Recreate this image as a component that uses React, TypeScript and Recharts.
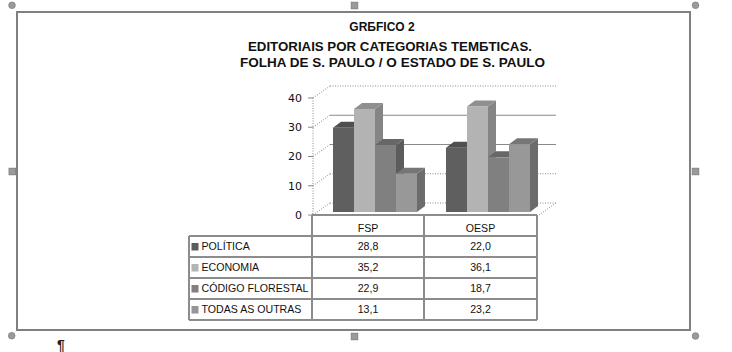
import React from 'react';
import { BarChart, Bar, XAxis, YAxis, CartesianGrid } from 'recharts';

const categories = ['FSP', 'OESP'];
const politica = [28.8, 22.0];
const economia = [35.2, 36.1];
const codigoFlorestal = [22.9, 18.7];
const todasAsOutras = [13.1, 23.2];
const seriesNames = ['POLÍTICA', 'ECONOMIA', 'CÓDIGO FLORESTAL', 'TODAS AS OUTRAS'];
const yTicks = [0, 10, 20, 30, 40];
const titleLines = [
  'GRБFICO 2',
  'EDITORIAIS POR CATEGORIAS TEMБTICAS.',
  'FOLHA DE S. PAULO / O ESTADO DE S. PAULO',
];

const seriesValues = [politica, economia, codigoFlorestal, todasAsOutras];
const seriesStyle = [
  { front: '#5f5f5f', side: '#474747', top: '#4f4f4f', key: '#5c5c5c' },
  { front: '#b3b3b3', side: '#858585', top: '#8f8f8f', key: '#b4b4b4' },
  { front: '#808080', side: '#5c5c5c', top: '#676767', key: '#808080' },
  { front: '#989898', side: '#6c6c6c', top: '#767676', key: '#969696' },
];

const data = categories.map((c, i) => {
  const row: any = { cat: c };
  seriesValues.forEach((vals, s) => {
    row['s' + s] = vals[i];
  });
  return row;
});

// layout
const W = 732;
const H = 352;
const PLOT_L = 313;
const PLOT_R = 539;
const PLOT_T = 98;
const PLOT_B = 215;
const DEPTH_X = 17;
const DEPTH_Y = -12;
const GRID = '#8a8a8a';

const make3D = (st: any) => (props: any) => {
  const { x, y, width, height } = props;
  if (width == null || height == null) return <g />;
  const X = x + 5;
  const Y = y - 3;
  const dx = 8;
  const dy = -6;
  return (
    <g>
      <polygon
        points={`${X + width},${Y} ${X + width + dx},${Y + dy} ${X + width + dx},${Y + height + dy} ${X + width},${Y + height}`}
        fill={st.side}
      />
      <polygon
        points={`${X},${Y} ${X + dx},${Y + dy} ${X + width + dx},${Y + dy} ${X + width},${Y}`}
        fill={st.top}
      />
      <rect x={X} y={Y} width={width} height={height} fill={st.front} />
    </g>
  );
};

const gridLine = (props: any) => {
  const { x1, y1, x2, y2 } = props;
  const v = Math.round(((PLOT_B - y1) / (PLOT_B - PLOT_T)) * 40);
  const solid = v === 20 || v === 30;
  return (
    <g key={`gl-${y1}`}>
      <line x1={x1} y1={y1} x2={x1 + DEPTH_X} y2={y1 + DEPTH_Y} stroke={GRID} strokeDasharray="1 1.5" />
      <line
        x1={x1 + DEPTH_X}
        y1={y1 + DEPTH_Y}
        x2={x2 + DEPTH_X}
        y2={y2 + DEPTH_Y}
        stroke={GRID}
        strokeDasharray={solid ? undefined : '1 1.5'}
      />
      {v === 0 ? (
        <line x1={x2} y1={y2} x2={x2 + DEPTH_X} y2={y2 + DEPTH_Y} stroke={GRID} strokeDasharray="1 1.5" />
      ) : null}
    </g>
  );
};

const fmt = (v: number) => v.toFixed(1).replace('.', ',');

const Handle = ({ cx, cy, round }: any) =>
  round ? (
    <circle cx={cx} cy={cy} r={3.3} fill="#9a9a9a" stroke="#808080" strokeWidth={0.8} />
  ) : (
    <rect x={cx - 3.3} y={cy - 3.3} width={6.6} height={6.6} fill="#9a9a9a" stroke="#7a7a7a" strokeWidth={0.8} />
  );

export default function App() {
  const colX = [189, 312, 424, 537];
  const headerTop = 215;
  const rowTop = 236;
  const rowH = 21;
  const tableFont = { fontFamily: '"Liberation Sans", Arial, sans-serif', fontSize: 10.6, fill: '#111' };
  const titleFont = { fontFamily: '"Liberation Sans", Arial, sans-serif', fontSize: 12, fontWeight: 700, fill: '#111' };
  return (
    <div style={{ position: 'absolute', left: 0, top: 0, width: W, height: H, background: '#fff' }}>
      <svg width={W} height={H} style={{ position: 'absolute', left: 0, top: 0 }}>
        <rect x={17} y={12} width={673} height={318} fill="none" stroke="#808080" strokeWidth={2} />
        <Handle cx={12} cy={5.3} round />
        <Handle cx={354.5} cy={5.5} />
        <Handle cx={695.5} cy={5.3} round />
        <Handle cx={12.3} cy={171.5} />
        <Handle cx={695.5} cy={171.5} />
        <Handle cx={11.7} cy={335.7} round />
        <Handle cx={354.5} cy={336.5} />
        <Handle cx={695.5} cy={336} round />
        <text x={382} y={31} textAnchor="middle" style={titleFont}>
          {titleLines[0]}
        </text>
        <text x={248} y={50.5} textLength={284} lengthAdjust="spacingAndGlyphs" style={titleFont}>
          {titleLines[1]}
        </text>
        <text x={240} y={67} textLength={305} lengthAdjust="spacingAndGlyphs" style={titleFont}>
          {titleLines[2]}
        </text>
        {/* table */}
        <g stroke="#8c8c8c" strokeWidth={2} fill="none">
          <line x1={colX[1]} y1={headerTop} x2={colX[3]} y2={headerTop} />
          {[0, 1, 2, 3, 4].map((r) => (
            <line key={r} x1={colX[0]} y1={rowTop + r * rowH} x2={colX[3]} y2={rowTop + r * rowH} />
          ))}
          <line x1={colX[0]} y1={rowTop} x2={colX[0]} y2={rowTop + 4 * rowH} />
          {[1, 2, 3].map((c) => (
            <line key={c} x1={colX[c]} y1={headerTop} x2={colX[c]} y2={rowTop + 4 * rowH} />
          ))}
        </g>
        {categories.map((c, i) => (
          <text key={c} x={(colX[i + 1] + colX[i + 2]) / 2} y={232} textAnchor="middle" style={tableFont}>
            {c}
          </text>
        ))}
        {seriesNames.map((n, r) => (
          <g key={n}>
            <rect x={191.5} y={rowTop + r * rowH + 7} width={7} height={7.5} fill={seriesStyle[r].key} />
            <text x={201.5} y={rowTop + r * rowH + 14.3} style={tableFont}>
              {n}
            </text>
            {categories.map((c, i) => (
              <text
                key={c}
                x={(colX[i + 1] + colX[i + 2]) / 2}
                y={rowTop + r * rowH + 14.3}
                textAnchor="middle"
                style={tableFont}
              >
                {fmt(seriesValues[r][i])}
              </text>
            ))}
          </g>
        ))}
        <text x={57} y={350} style={{ fontFamily: '"Liberation Sans", Arial, sans-serif', fontSize: 14, fontWeight: 700, fill: '#222' }}>
          ¶
        </text>
      </svg>
      <div style={{ position: 'absolute', left: 0, top: 0 }}>
        <BarChart
          width={W}
          height={H}
          data={data}
          margin={{ top: PLOT_T, bottom: H - PLOT_B, left: PLOT_L - 40, right: W - PLOT_R }}
          barCategoryGap={15}
          barGap={0}
        >
          <CartesianGrid vertical={false} horizontal={gridLine as any} />
          <XAxis dataKey="cat" hide />
          <YAxis
            width={40}
            domain={[0, 40]}
            ticks={yTicks}
            interval={0}
            tickSize={5}
            tickMargin={6}
            axisLine={{ stroke: GRID, strokeDasharray: '1 1.5' }}
            tickLine={{ stroke: GRID }}
            tick={{ fontFamily: '"DejaVu Sans", Verdana, sans-serif', fontSize: 11, fill: '#111' }}
          />
          {seriesNames.map((n, s) => (
            <Bar
              key={n}
              dataKey={'s' + s}
              name={n}
              isAnimationActive={false}
              shape={make3D(seriesStyle[s])}
            />
          ))}
        </BarChart>
      </div>
    </div>
  );
}
